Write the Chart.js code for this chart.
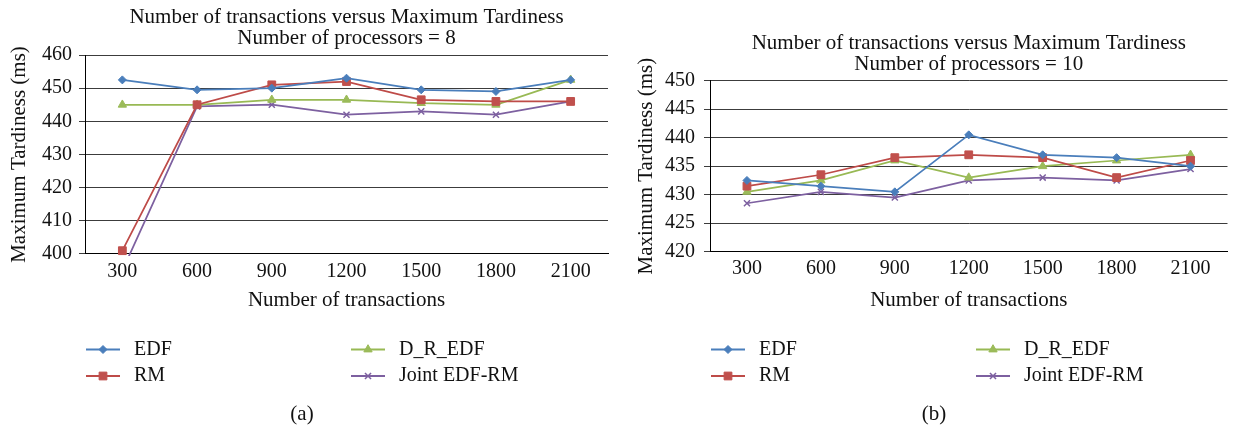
<!DOCTYPE html>
<html><head><meta charset="utf-8">
<script src="https://cdn.jsdelivr.net/npm/chart.js@4/dist/chart.umd.min.js"></script>
<style>
html,body{margin:0;padding:0;background:#fff;overflow:hidden;width:1233px;height:427px;}
#wa{position:absolute;left:0;top:0;width:616px;height:427px;}
#wb{position:absolute;left:616px;top:0;width:618px;height:427px;}
</style></head><body>
<div id="wa"><canvas id="ca"></canvas></div>
<div id="wb"><canvas id="cb"></canvas></div>
<script>
// ---- data ----
const categories = ['300','600','900','1200','1500','1800','2100'];
const seriesNames = ['EDF','RM','D_R_EDF','Joint EDF-RM'];
// (a) Number of processors = 8
const edfA   = [452.5, 449.5, 450, 453, 449.5, 449, 452.5];
const rmA    = [401, 445, 451, 452, 446.5, 446, 446];
const drEdfA = [445, 445, 446.5, 446.5, 445.5, 445, 452.5];
const jointA = [395, 444.5, 445, 442, 443, 442, 446];
// (b) Number of processors = 10
const edfB   = [432.5, 431.5, 430.5, 440.5, 437, 436.5, 435];
const rmB    = [431.5, 433.5, 436.5, 437, 436.5, 433, 436];
const drEdfB = [430.5, 432.5, 436, 433, 435, 436, 437];
const jointB = [428.5, 430.5, 429.5, 432.5, 433, 432.5, 434.5];
// y axis ranges [min, max, step]
const yRangeA = [400, 460, 10];
const yRangeB = [420, 450, 5];
const titleA = ['Number of transactions versus Maximum Tardiness', 'Number of processors = 8'];
const titleB = ['Number of transactions versus Maximum Tardiness', 'Number of processors = 10'];
const xTitle = 'Number of transactions';
const yTitle = 'Maximum Tardiness (ms)';

// ---- styles ----
const FONT = "'Liberation Serif', 'Times New Roman', serif";
const styles = [
  {line:'#4A7EBB', fill:'#4A7EBB', point:'rectRot', r:4},
  {line:'#BE4B48', fill:'#C0504D', point:'rect', r:5.5},
  {line:'#98B954', fill:'#9BBB59', point:'triangle', r:4.8},
  {line:'#7D60A0', fill:'#7D60A0', point:'crossRot', r:4.3}
];

function makeDatasets(arrs){
  return arrs.map((d,i)=>({
    label: seriesNames[i],
    data: d,
    borderColor: styles[i].line,
    backgroundColor: styles[i].fill,
    pointBackgroundColor: styles[i].fill,
    pointBorderColor: styles[i].fill,
    pointStyle: styles[i].point,
    pointRadius: styles[i].r,
    pointBorderWidth: i===3 ? 1.5 : 1,
    borderWidth: 1.75,
    tension: 0,
    clip: {left: 10, right: 10, top: 10, bottom: 2}
  }));
}

const legendPlugin = {
  id: 'customLegend',
  afterDraw(chart, args, opts){
    const ctx = chart.ctx, a = chart.chartArea;
    ctx.save();
    chart.data.datasets.forEach((ds,i)=>{
      const col = Math.floor(i/2), row = i%2;
      const x0 = a.left + 1 + col*opts.colGap;
      const y = opts.rowY[row];
      ctx.strokeStyle = ds.borderColor;
      ctx.lineWidth = 2;
      ctx.beginPath(); ctx.moveTo(x0, y); ctx.lineTo(x0+34, y); ctx.stroke();
      ctx.fillStyle = ds.pointBackgroundColor;
      ctx.strokeStyle = ds.pointBorderColor;
      ctx.lineWidth = ds.pointBorderWidth;
      Chart.helpers.drawPoint(ctx, {pointStyle: ds.pointStyle, radius: ds.pointRadius, rotation: 0, borderWidth: ds.pointBorderWidth}, x0+17, y);
      ctx.fillStyle = '#111';
      ctx.font = '20px ' + FONT;
      ctx.textAlign = 'left'; ctx.textBaseline = 'middle';
      ctx.fillText(ds.label, x0 + opts.textOff, y);
    });
    ctx.font = '21px ' + FONT;
    ctx.textAlign = 'center'; ctx.textBaseline = 'middle';
    ctx.fillStyle = '#111';
    ctx.fillText(opts.caption, opts.capX, opts.capY);
    ctx.restore();
  }
};

function makeChart(id, arrs, yr, title, p){
  return new Chart(document.getElementById(id), {
    type: 'line',
    data: { labels: categories, datasets: makeDatasets(arrs) },
    options: {
      responsive: true, maintainAspectRatio: false, animation: false,
      devicePixelRatio: 1,
      layout: { padding: { left: 0, top: 0, right: p.padRight, bottom: p.padBottom } },
      plugins: {
        legend: { display: false },
        tooltip: { enabled: false },
        title: {
          display: true, text: title, fullSize: false, color: '#111',
          font: { family: FONT, size: 21, weight: 'normal', lineHeight: 1 },
          padding: { top: p.titleTop, bottom: p.areaTop - p.titleTop - 42 }
        },
        customLegend: { colGap: 265, textOff: 48, rowY: [349.5, 376], caption: p.caption, capX: p.capX, capY: 414 }
      },
      scales: {
        x: {
          offset: true,
          grid: { display: false, drawTicks: false },
          border: { display: true, color: '#000', width: 1 },
          ticks: { color: '#111', font: { family: FONT, size: 20 }, padding: p.xPad, maxRotation: 0, autoSkip: false },
          title: { display: true, text: xTitle, color: '#111', font: { family: FONT, size: 21, lineHeight: 1.2 }, padding: { top: 0, bottom: 0 } },
          afterFit(s){ s.height = 312.6 - p.areaBottom; }
        },
        y: {
          min: yr[0], max: yr[1],
          grid: { color: '#3c3c3c', lineWidth: 1, drawTicks: true, tickLength: 6 },
          border: { display: true, color: '#000', width: 1 },
          ticks: { stepSize: yr[2], color: '#111', font: { family: FONT, size: 20 }, padding: p.yPad },
          title: { display: true, text: yTitle, color: '#111', font: { family: FONT, size: 21, lineHeight: 1.2 }, padding: { top: p.yTitlePad, bottom: 0 } },
          afterFit(s){ s.width = p.yWidth; }
        }
      }
    },
    plugins: [legendPlugin]
  });
}

makeChart('ca', [edfA, rmA, drEdfA, jointA], yRangeA, titleA,
  { padRight: 8, padBottom: 114.4, titleTop: 6.5, areaTop: 55, areaBottom: 254, yWidth: 85, yPad: 7, xPad: 6, yTitlePad: 7, caption: '(a)', capX: 302 });
makeChart('cb', [edfB, rmB, drEdfB, jointB], yRangeB, titleB,
  { padRight: 0, padBottom: 114.4, titleTop: 32.5, areaTop: 80.7, areaBottom: 251.7, yWidth: 94, yPad: 9, xPad: 5, yTitlePad: 17.4, caption: '(b)', capX: 318 });
</script>
</body></html>
